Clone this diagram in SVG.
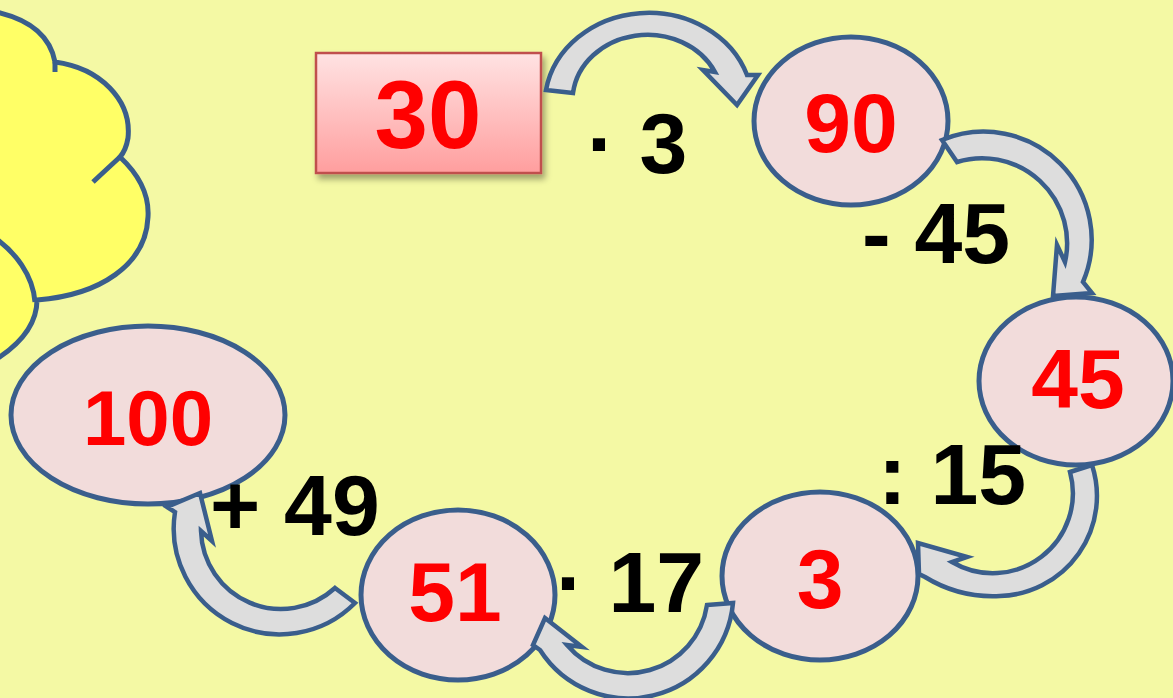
<svg xmlns="http://www.w3.org/2000/svg" width="1173" height="698" viewBox="0 0 1173 698">
<defs>
<linearGradient id="boxGrad" x1="0" y1="0" x2="0" y2="1">
<stop offset="0" stop-color="#FFE3E3"/>
<stop offset="1" stop-color="#FF9E9E"/>
</linearGradient>
<filter id="shadow" x="-10%" y="-10%" width="130%" height="140%">
<feDropShadow dx="3" dy="5" stdDeviation="3" flood-color="#000000" flood-opacity="0.35"/>
</filter>
</defs>
<style>
.node ellipse{fill:#F2DCDB;stroke:#3A5E8C;stroke-width:5}
.num{font-family:"Liberation Sans",Arial,sans-serif;font-weight:bold;fill:#FF0000;text-anchor:middle}
.lbl{font-family:"Liberation Sans",Arial,sans-serif;font-weight:bold;fill:#000000;font-size:86px}
.arrow{fill:#DDDDDD;stroke:#3A5E8C;stroke-width:4.5;stroke-linejoin:miter}
.cloud{fill:#FFFF66;stroke:#3A5E8C;stroke-width:5}
.cloudline{fill:none;stroke:#3A5E8C;stroke-width:5}
</style>
<rect x="0" y="0" width="1173" height="698" fill="#F4F9A4"/>

<g id="cloud">
<path class="cloud" d="M -8,10 L 0,13 Q 48,25 55,62 C 100,68 132,100 128,138 Q 126,150 120,157 Q 150,185 148,217 C 146,265 100,295 37,300 C 37,325 20,345 -8,362 Z"/>
<path class="cloudline" d="M 55,62 L 55,72"/>
<path class="cloudline" d="M 120,157 Q 108,168 93,182"/>
<path class="cloudline" d="M -5,238 C 15,252 33,275 35,302"/>
</g>

<g id="start-30">
<rect x="316" y="53" width="225" height="120" fill="url(#boxGrad)" stroke="#C0504D" stroke-width="2.5" filter="url(#shadow)"/>
<text class="num" x="428" y="148" font-size="96">30</text>
</g>

<g id="node-90" class="node">
<ellipse cx="851" cy="121" rx="97" ry="84"/>
<text class="num" x="851" y="152" font-size="84">90</text>
</g>
<g id="node-45" class="node">
<ellipse cx="1076" cy="381" rx="97" ry="84"/>
<text class="num" x="1078" y="408" font-size="84">45</text>
</g>
<g id="node-3" class="node">
<ellipse cx="820" cy="576" rx="98" ry="84"/>
<text class="num" x="820" y="608" font-size="84">3</text>
</g>
<g id="node-51" class="node">
<ellipse cx="458" cy="595" rx="97" ry="85"/>
<text class="num" x="455" y="621" font-size="84">51</text>
</g>
<g id="node-100" class="node">
<ellipse cx="148" cy="415" rx="137" ry="89"/>
<text class="num" x="148" y="445" font-size="78">100</text>
</g>

<g id="connectors">
<path class="arrow" d="M 573,93 L 546,90 A 104 92 0 0 1 747,75 L 758,75 L 737,105 L 703,70 L 715,72 A 75 66 0 0 0 573,93 Z"/>
<path class="arrow" d="M 957,162 L 942,140 A 108 108 0 0 1 1083,282 L 1092,293 L 1053,296 L 1057,245 L 1065,262 A 85 85 0 0 0 957,162 Z"/>
<path class="arrow" d="M 1070,472 L 1092,465 A 100 100 0 0 1 1000,596 A 130 130 0 0 1 925,577 L 919,574 L 918,543 L 967,557 L 952,562 A 80 80 0 0 0 1070,472 Z"/>
<path class="arrow" d="M 707,605 L 733,603 A 105 105 0 0 1 540,650 L 533,645 L 545,618 L 582,647 L 567,645 A 80 80 0 0 0 707,605 Z"/>
<path class="arrow" d="M 335,588 L 355,603 A 106 106 0 0 1 175,512 L 167,507 L 200,493 L 212,541 L 201,531 A 80 80 0 0 0 335,588 Z"/>
</g>

<g id="labels">
<text class="lbl" x="587" y="173">· 3</text>
<text class="lbl" x="862" y="263">- 45</text>
<text class="lbl" x="878" y="504">: 15</text>
<text class="lbl" x="556" y="612">· 17</text>
<text class="lbl" x="210" y="535" font-size="84">+ 49</text>
</g>
</svg>
